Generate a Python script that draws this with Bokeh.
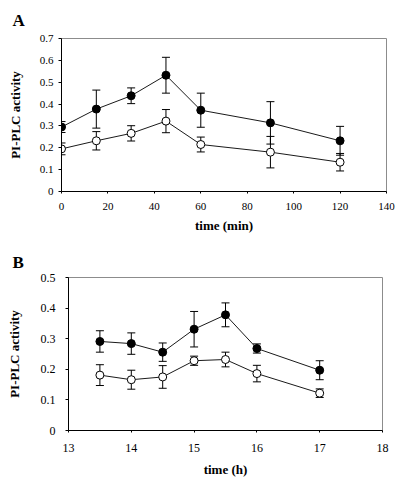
from bokeh.plotting import figure
from bokeh.models import (ColumnDataSource, Whisker, TeeHead, Range1d, FixedTicker,
                          NumeralTickFormatter)
from bokeh.embed import file_html
from bokeh.resources import INLINE

# ---------------- data ----------------
a_time = [0, 15, 30, 45, 60, 90, 120]
a_filled = [0.295, 0.377, 0.438, 0.532, 0.372, 0.314, 0.232]
a_filled_err = [0.025, 0.087, 0.036, 0.082, 0.078, 0.097, 0.066]
a_open = [0.195, 0.232, 0.266, 0.322, 0.215, 0.180, 0.134]
a_open_err = [0.027, 0.042, 0.035, 0.053, 0.034, 0.072, 0.040]
a_xticks = [0, 20, 40, 60, 80, 100, 120, 140]
a_yticks = [0, 0.1, 0.2, 0.3, 0.4, 0.5, 0.6, 0.7]

b_time = [13.5, 14, 14.5, 15, 15.5, 16, 17]
b_filled = [0.291, 0.284, 0.256, 0.331, 0.378, 0.268, 0.197]
b_filled_err = [0.035, 0.035, 0.030, 0.058, 0.039, 0.015, 0.031]
b_open = [0.181, 0.166, 0.175, 0.228, 0.232, 0.186, 0.122]
b_open_err = [0.034, 0.031, 0.037, 0.015, 0.024, 0.027, 0.014]
b_xticks = [13, 14, 15, 16, 17, 18]
b_yticks = [0, 0.1, 0.2, 0.3, 0.4, 0.5]

y_title = "PI-PLC activity"
SERIF = "Liberation Serif"


def make_panel(letter, t, filled, ferr, opn, oerr, xr, yr, xticks, yticks, xlabel,
               frame_w, frame_h, border, tick_size, x_standoff, xlab_standoff,
               y_standoff, ylab_standoff, letter_offset, letter_standoff):
    p = figure(frame_width=frame_w, frame_height=frame_h, output_backend="svg",
               toolbar_location=None,
               x_range=Range1d(*xr), y_range=Range1d(*yr),
               min_border_left=border[0], min_border_right=border[1],
               min_border_top=border[2], min_border_bottom=border[3])
    p.xgrid.visible = False
    p.ygrid.visible = False
    p.outline_line_color = "#8c8c8c"
    p.outline_line_width = 1
    p.background_fill_color = "white"
    p.border_fill_color = "white"

    p.title.text = letter
    p.title.align = "left"
    p.title.offset = letter_offset
    p.title.standoff = letter_standoff
    p.title.text_font = SERIF
    p.title.text_font_style = "bold"
    p.title.text_font_size = "17px"
    p.title.text_color = "black"

    for ax in (p.xaxis[0], p.yaxis[0]):
        ax.axis_line_color = "black"
        ax.axis_line_width = 1
        ax.major_tick_line_color = "black"
        ax.major_tick_in = 0
        ax.minor_tick_line_color = None
        ax.major_label_text_font = SERIF
        ax.major_label_text_font_size = tick_size
        ax.major_label_text_color = "black"
        ax.axis_label_text_font = SERIF
        ax.axis_label_text_font_style = "bold"
        ax.axis_label_text_font_size = "13px"
        ax.axis_label_text_color = "black"
    p.xaxis[0].major_tick_out = 2
    p.yaxis[0].major_tick_out = 3
    p.xaxis[0].ticker = FixedTicker(ticks=xticks)
    p.yaxis[0].ticker = FixedTicker(ticks=yticks)
    p.yaxis[0].formatter = NumeralTickFormatter(format="0.[0]")
    p.xaxis[0].major_label_standoff = x_standoff
    p.yaxis[0].major_label_standoff = y_standoff
    p.xaxis[0].axis_label = xlabel
    p.xaxis[0].axis_label_standoff = xlab_standoff
    p.yaxis[0].axis_label = y_title
    p.yaxis[0].axis_label_standoff = ylab_standoff

    s_f = ColumnDataSource(dict(x=t, y=filled,
                                lo=[v - e for v, e in zip(filled, ferr)],
                                hi=[v + e for v, e in zip(filled, ferr)]))
    s_o = ColumnDataSource(dict(x=t, y=opn,
                                lo=[v - e for v, e in zip(opn, oerr)],
                                hi=[v + e for v, e in zip(opn, oerr)]))
    for s in (s_o, s_f):
        w = Whisker(base="x", lower="lo", upper="hi", source=s, line_color="black",
                    line_width=1,
                    lower_head=TeeHead(size=8, line_color="black", line_width=1),
                    upper_head=TeeHead(size=8, line_color="black", line_width=1))
        p.add_layout(w)

    p.line("x", "y", source=s_o, line_color="#1a1a1a", line_width=1)
    p.line("x", "y", source=s_f, line_color="#1a1a1a", line_width=1)
    p.scatter("x", "y", source=s_o, size=8, marker="circle", fill_color="white",
              line_color="black", line_width=1)
    p.scatter("x", "y", source=s_f, size=8, marker="circle", fill_color="black",
              line_color="black", line_width=1)
    return p


pa = make_panel("A", a_time, a_filled, a_filled_err, a_open, a_open_err,
                (0, 140), (0, 0.7), a_xticks, a_yticks, "time (min)",
                frame_w=325, frame_h=153, border=(61, 12, 37, 54), tick_size="11px",
                x_standoff=9, xlab_standoff=5, y_standoff=5, ylab_standoff=14,
                letter_offset=-49, letter_standoff=17)
pb = make_panel("B", b_time, b_filled, b_filled_err, b_open, b_open_err,
                (13, 18), (0, 0.5), b_xticks, b_yticks, "time (h)",
                frame_w=314, frame_h=153, border=(68, 16, 32, 45), tick_size="12px",
                x_standoff=11, xlab_standoff=7, y_standoff=10, ylab_standoff=16,
                letter_offset=-56, letter_standoff=11)

open("out.html", "w").write(file_html([pa, pb], INLINE))
